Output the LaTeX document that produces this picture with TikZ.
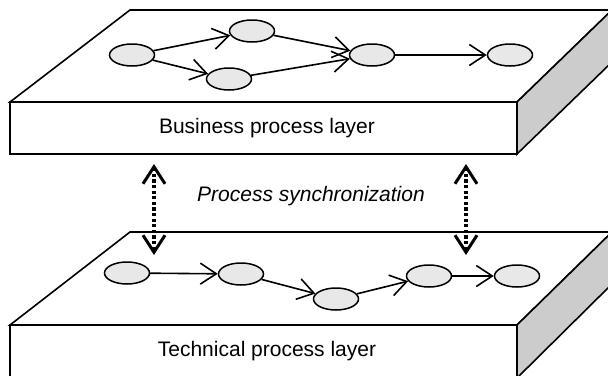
\documentclass[tikz,border=0pt]{standalone}
\usepackage{fontspec}
\setmainfont{Liberation Sans}
\usetikzlibrary{arrows.meta,shapes.geometric}
\definecolor{sidegray}{gray}{0.80}
\definecolor{taskgray}{gray}{0.91}
\begin{document}
\begin{tikzpicture}[x=1pt,y=-1pt,
  face/.style={draw, line width=1.6pt, line join=miter, fill=white},
  side/.style={face, fill=sidegray},
  task/.style={ellipse, draw, line width=1.5pt, fill=taskgray,
    minimum width=45pt, minimum height=22pt, inner sep=0pt},
  flow/.style={-{Straight Barb[length=16pt,width=21pt,line width=1.6pt]},
    line width=1.6pt},
  sync/.style={{Straight Barb[length=17pt,width=22pt,line width=3pt]}-{Straight Barb[length=17pt,width=22pt,line width=3pt]},
    line width=3.4pt, dash pattern=on 3.2pt off 2.4pt},
  layertext/.style={font=\fontsize{21}{25}\selectfont, anchor=base, inner sep=0pt}]
\useasboundingbox (0,0) rectangle (608,375);
\clip (0,0) rectangle (608,375);

% business slab
\draw[face] (10,102) -- (130,10) -- (612,10) -- (517,102) -- cycle;
\draw[side] (517,102) -- (612,10) -- (612,62) -- (517,154) -- cycle;
\draw[face] (10,102) rectangle (517,154);
\node[layertext] (biztext) at (267,133) {Business process layer};

% business process
\node[task] (b1) at (132,55) {};
\node[task] (b2) at (252,31) {};
\node[task] (b3) at (229,79) {};
\node[task] (b4) at (372,55) {};
\node[task] (b5) at (510,55) {};
\draw[flow] (b1) -- (b2);
\draw[flow] (b1) -- (b3);
\draw[flow] (b2) -- (b4);
\draw[flow] (b3) -- (b4);
\draw[flow] (b4) -- (b5);

% technical slab
\draw[face] (10,325) -- (130,232) -- (612,232) -- (517,325) -- cycle;
\draw[side] (517,325) -- (612,232) -- (612,284) -- (517,378) -- cycle;
\draw[face] (10,325) rectangle (517,378);
\node[layertext] (techtext) at (267,356) {Technical process layer};

% technical process
\node[task] (t1) at (127,273) {};
\node[task] (t2) at (241,274) {};
\node[task] (t3) at (336,299) {};
\node[task] (t4) at (429,276) {};
\node[task] (t5) at (517,276) {};
\draw[flow] (t1) -- (t2);
\draw[flow] (t2) -- (t3);
\draw[flow] (t3) -- (t4);
\draw[flow] (t4) -- (t5);

% synchronization links
\node[layertext, font=\fontsize{21}{25}\selectfont\itshape] (synctext) at (311,201) {Process synchronization};
\coordinate (lu) at (154,164);
\coordinate (ld) at (154,255);
\coordinate (ru) at (466,164);
\coordinate (rd) at (466,255);
\draw[sync] (lu) -- (ld);
\draw[sync] (ru) -- (rd);
\end{tikzpicture}
\end{document}
